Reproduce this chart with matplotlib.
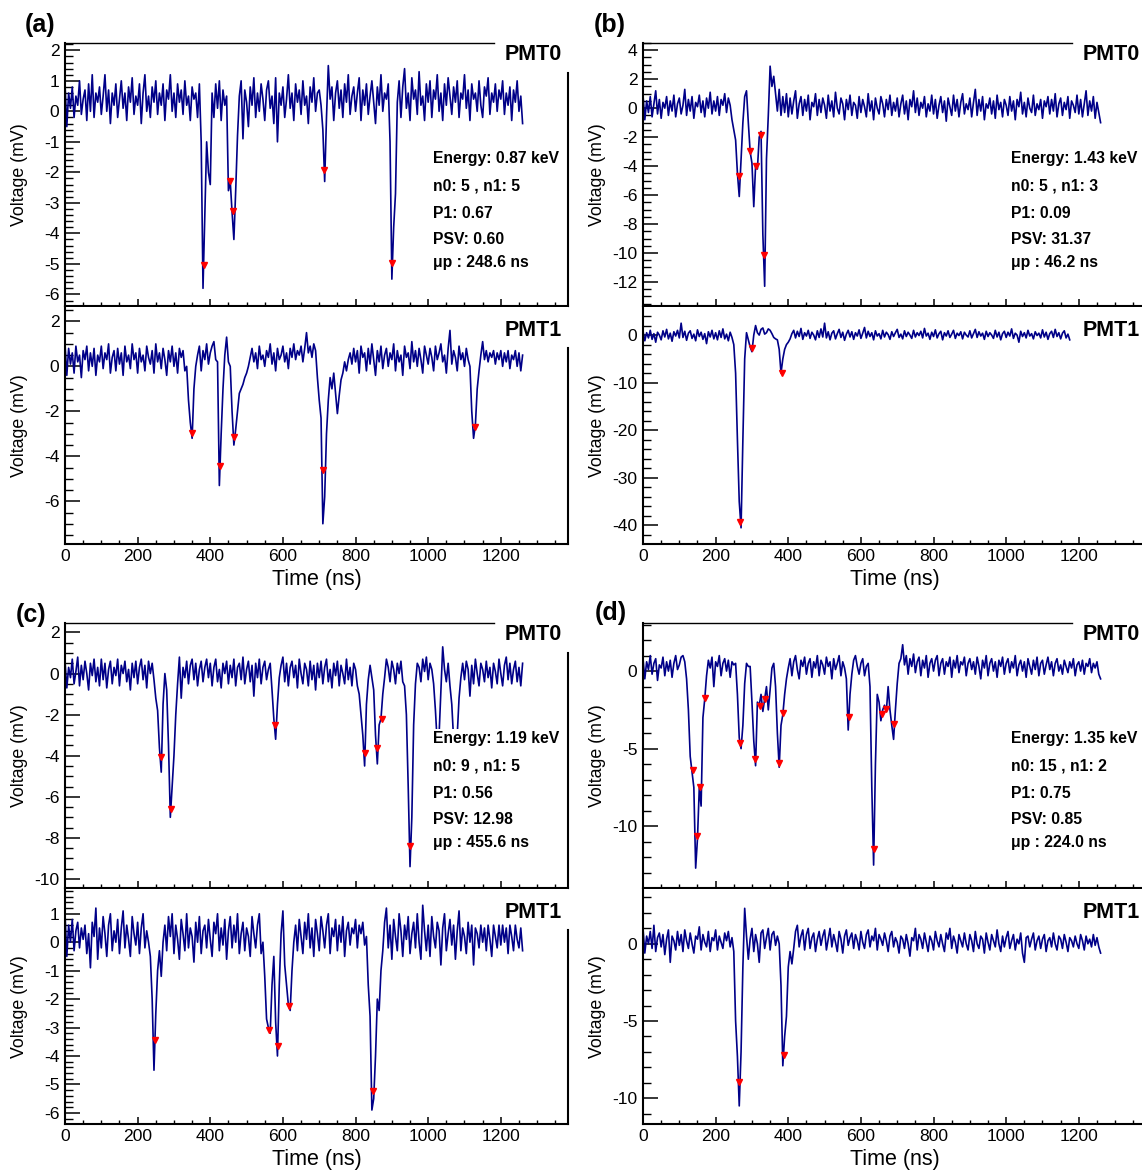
import numpy as np
import matplotlib
matplotlib.use("Agg")
import matplotlib.pyplot as plt
from matplotlib.ticker import MultipleLocator
from matplotlib.patches import Rectangle

plt.rcParams['font.family'] = ['Liberation Sans', 'DejaVu Sans']
plt.rcParams['axes.unicode_minus'] = False

# waveforms sampled every 5 ns, values in mV (one row = 100 ns)
SAMPLE_NS = 5

a_pmt0 = [
    0.9, -0.5, 0.6, 0.1, 0.8, -0.2, 0.5, 0.2, 1.0, -0.1, 0.4, 0.7, -0.3, 0.9, 0.0, 1.2, -0.2, 0.6, 0.3, 0.8,
    -0.1, 0.5, 1.2, 0.0, 0.7, -0.4, 0.6, 0.2, 0.9, -0.2, 0.4, 1.0, 0.1, 0.6, -0.3, 0.8, 0.3, 1.1, -0.1, 0.5,
    0.2, 0.9, -0.4, 0.6, 1.2, 0.0, 0.5, -0.2, 0.8, 0.3, 1.0, -0.1, 0.6, 0.2, 0.9, -0.3, 0.7, 0.4, 1.2, 0.0,
    0.6, -0.2, 0.9, 0.3, 0.7, -0.1, 1.0, 0.2, 0.5, -0.3, 0.8, 0.4, 0.6, -0.2, 0.9, -1.0, -5.8, -3.4, -1.0, -2.0,
    -2.4, 0.6, -0.2, 0.9, 0.1, 1.0, -0.3, 0.7, 0.2, 0.5, -2.6, -2.3, -3.3, -4.2, -2.6, -0.8, 0.5, 1.0, -0.9, 0.7,
    0.3, -0.5, 0.8, 0.2, 1.1, -0.2, 0.6, 0.0, 0.9, 0.4, -0.3, 0.7, 1.0, 0.1, 0.5, -0.4, 1.1, -1.0, 0.6, 0.2,
    0.8, -0.2, 0.4, 1.2, 0.1, 0.6, -0.3, 0.9, 0.3, 0.7, -0.1, 1.0, 0.2, 0.5, -0.4, 0.8, 0.3, 1.1, 0.0, 0.6,
    0.7, 0.2, -0.6, -2.3, -0.2, 1.5, 0.4, 0.8, -0.3, 0.6, 1.0, 0.1, 0.7, -0.2, 0.9, 0.3, 1.2, -0.1, 0.5, 0.8,
    0.0, 0.6, 1.1, -0.3, 0.7, 0.2, 0.9, -0.1, 0.5, 1.0, 0.3, -0.4, 0.8, 0.2, 1.2, 0.0, 0.6, 0.4, 0.9, -1.0,
    -5.5, -3.8, -2.7, 0.3, 1.0, -0.2, 0.8, 1.4, 0.1, 0.6, -0.3, 1.1, 0.4, 0.7, -0.1, 1.3, 0.2, 0.5, -0.3, 0.9,
    0.3, 1.0, -0.2, 0.7, 0.4, 1.2, 0.0, 0.6, -0.3, 0.9, 0.2, 1.1, 0.5, -0.1, 0.8, 0.3, 1.0, -0.2, 0.6, 0.4,
    1.2, 0.1, 0.7, -0.3, 0.9, 0.4, 0.6, 0.0, 1.0, 0.2, -0.2, 0.8, 0.5, 1.1, -0.1, 0.6, 0.3, 0.9, 0.0, 0.7,
    0.4, 1.0, -0.1, 0.6, 0.2, 0.8, -0.3, 0.7, 0.3, 1.0, 0.0, 0.5, -0.4,
]
a_pmt0_peak_t = [383, 453, 462, 714, 900]
a_pmt0_peak_v = [-5.05, -2.27, -3.28, -1.91, -4.96]

a_pmt1 = [
    1.0, -0.4, 0.8, 0.1, 0.6, -0.3, 0.9, 0.2, 0.5, -0.5, 0.7, 0.3, 0.9, -0.2, 0.6, 0.0, 0.8, -0.4, 0.5, 0.2,
    0.9, -0.1, 0.6, 0.3, 1.0, -0.3, 0.4, 0.7, -0.2, 0.8, 0.1, 0.6, -0.4, 0.9, 0.2, 0.5, -0.1, 1.0, 0.3, 0.6,
    -0.3, 0.8, 0.2, 0.5, -0.2, 0.9, 0.4, 0.1, 0.7, -0.3, 1.0, 0.2, 0.6, -0.1, 0.8, 0.3, -0.4, 0.7, 0.2, 0.9,
    0.0, 0.6, -0.3, 0.8, 0.4, 0.7, -0.2, 0.0, -1.5, -2.5, -3.2, -1.0, 0.0, 0.5, 0.9, -0.2, 0.7, 0.3, 1.0, 0.1,
    0.6, 0.9, 1.1, 0.3, 0.2, -5.3, -3.0, -1.0, 0.5, 1.3, 0.2, 0.0, -2.0, -3.5, -2.8, -2.0, -1.2, -1.0, -0.8, -0.5,
    -0.3, 0.0, 0.4, 0.8, 0.2, 0.6, -0.1, 0.9, 0.3, 0.5, 0.0, 0.7, 0.4, 1.0, 0.1, 0.6, -0.2, 0.8, 0.3, 0.5,
    0.9, 0.2, 0.6, -0.1, 0.8, 0.4, 1.0, 0.3, 0.7, 0.5, 0.9, 0.2, 0.8, 1.5, 0.6, 0.9, 0.4, 1.0, 0.7, -0.5,
    -1.5, -2.3, -7.0, -5.8, -3.0, -1.5, -0.5, -1.0, -0.3, -1.2, -2.1, -1.3, -0.6, -0.3, 0.2, -0.2, 0.3, 0.6, 0.1, 0.8,
    0.2, 0.7, -0.3, 0.9, 0.4, 0.6, -0.2, 0.8, 0.1, 1.0, 0.3, -0.4, 0.7, 0.2, 0.9, -0.1, 0.5, 0.8, 0.0, 0.6,
    0.3, 1.0, -0.2, 0.7, 0.2, 0.5, -0.4, 0.9, 0.4, 0.6, -0.1, 1.1, 0.2, 0.7, 0.0, 0.8, 0.3, -0.3, 0.9, 0.5,
    0.1, 0.8, 0.4, -0.2, 0.9, 0.3, 0.6, 1.0, 0.2, 0.5, -0.3, 0.8, 1.6, 0.1, 0.7, 0.4, -0.2, 0.9, 0.3, 0.6,
    0.0, 0.8, 0.3, 0.0, -2.0, -3.2, -2.6, -1.0, -0.2, 0.5, 1.1, 0.3, 0.7, 0.2, 0.6, 0.4, 0.7, 0.1, 0.6, 0.3,
    0.7, 0.0, 0.6, 0.2, 0.7, -0.1, 0.5, 0.3, 0.7, 0.0, 0.6, -0.2, 0.5,
]
a_pmt1_peak_t = [351, 428, 466, 710, 1129]
a_pmt1_peak_v = [-2.96, -4.44, -3.14, -4.60, -2.71]

b_pmt0 = [
    0.9, -0.8, 0.5, -0.3, 0.8, -0.6, 0.3, 1.2, -0.4, 0.6, -0.7, 0.4, 0.0, 0.8, -0.5, 0.5, -0.2, 0.9, -0.6, 0.3,
    0.7, -0.4, 0.2, 1.3, -0.5, 0.6, -0.2, 0.8, -0.7, 0.4, 0.1, 0.9, -0.3, 0.5, -0.6, 0.7, 0.0, 1.1, -0.4, 0.5,
    -0.2, 0.8, -0.5, 0.6, 0.2, 1.0, -0.3, 0.7, 0.2, -0.8, -1.5, -2.2, -4.5, -6.1, -3.5, -1.0, 0.8, 1.2, -1.0, -3.0,
    -3.8, -6.8, -4.0, -4.2, -2.0, -1.6, -8.7, -12.3, -3.5, -0.5, 2.9, 1.5, 2.2, 1.0, -0.2, 1.3, -0.5, 0.8, -0.3, 1.0,
    -0.6, 0.7, -0.4, 0.5, 1.2, -0.7, 0.3, 0.8, -0.5, 0.6, -0.2, 0.9, -0.8, 0.4, 0.1, 1.0, -0.5, 0.6, -0.3, 0.7,
    0.2, -0.7, 0.9, -0.2, 0.5, -0.6, 1.1, 0.0, -0.4, 0.7, 0.3, -0.8, 0.6, -0.1, 0.9, -0.5, 0.4, 0.2, -0.7, 0.8,
    -0.3, 0.6, 0.1, -0.6, 1.0, -0.2, 0.5, -0.8, 0.7, 0.0, -0.4, 0.8, 0.3, -0.6, 0.6, -0.1, 0.9, -0.5, 0.4, -0.2,
    0.7, -0.6, 0.3, 0.9, -0.4, 0.5, -0.8, 0.6, 0.1, 1.2, -0.3, 0.7, -0.5, 0.4, 0.0, 0.8, -0.6, 0.3, -0.2, 0.9,
    -0.4, 0.6, -0.7, 0.2, 0.8, -0.3, 0.5, -0.9, 0.7, 0.1, -0.5, 0.9, -0.2, 0.6, -0.6, 0.4, 1.0, -0.4, 0.3, -0.1,
    0.7, -0.6, 0.4, 1.3, -0.5, 0.6, -0.2, 0.8, -0.8, 0.3, 0.0, 0.7, -0.4, 0.5, -0.7, 0.9, -0.1, 0.4, -0.6, 0.6,
    0.2, -0.5, 0.8, -0.2, 0.5, -0.8, 0.6, 0.1, 1.1, -0.4, 0.4, -0.6, 0.7, 0.0, -0.3, 0.9, -0.5, 0.3, -0.1, 0.6,
    -0.7, 0.5, 0.1, 0.8, -0.4, 0.6, -0.2, 1.0, -0.6, 0.3, 0.7, -0.5, 0.4, -0.1, 0.8, -0.7, 0.5, 0.2, -0.3, 0.9,
    -0.4, 0.6, -0.6, 0.3, 1.2, -0.5, 0.5, -0.2, 0.8, -0.7, 0.4, -0.3, -1.0,
]
b_pmt0_peak_t = [263, 295, 312, 324, 333]
b_pmt0_peak_v = [-4.71, -2.93, -4.01, -1.84, -10.16]

b_pmt1 = [
    0.8, -1.2, 0.5, -0.6, 1.0, -0.9, 0.3, -1.5, 0.6, 0.0, -1.0, 0.9, -0.4, 1.2, -0.8, 0.4, -1.3, 0.7, -0.2, 1.0,
    -0.6, 2.5, -0.5, 0.8, -1.1, 0.4, 0.9, -0.7, 0.2, -1.2, 1.1, -0.3, 0.6, -0.9, 0.3, -1.8, 0.7, -0.4, 1.0, -0.8,
    0.5, -1.0, 0.9, -0.5, 1.3, -0.8, 0.2, -1.2, 0.6, -0.5, -2.0, -8.0, -22.0, -35.0, -40.5, -22.0, -5.0, 0.5, -1.0, -2.5,
    -3.5, 0.0, 2.0, 0.5, 0.0, 1.2, 1.5, 0.2, 0.5, 1.3, 1.0, 0.3, -0.5, -0.8, -1.0, -3.0, -8.0, -5.0, -3.0, -2.0,
    -1.5, -0.8, 0.3, 1.0, -0.6, 0.8, -0.3, 1.4, -0.9, 0.5, -0.2, 1.0, -0.7, 0.6, 0.0, -1.0, 0.9, -0.5, 1.3, -0.4,
    2.5, -0.6, 0.7, -1.0, 0.4, 0.9, -0.8, 0.3, 1.2, -0.5, 0.6, -1.1, 0.2, 1.0, -0.4, 0.7, -0.9, 0.5, -0.2, 1.1,
    -0.7, 0.4, 1.6, -0.6, 0.8, -0.3, 0.5, -1.0, 0.9, -0.2, 0.3, -0.8, 1.0, -0.4, 0.6, 0.1, -0.9, 0.7, -0.3, 0.5,
    1.2, -0.5, 0.2, -0.8, 0.9, -0.3, 0.6, 0.0, -0.7, 1.0, -0.4, 0.5, -0.1, 0.8, -0.6, 1.4, -0.2, 0.4, -0.9, 0.6,
    -0.3, 1.1, -0.6, 0.3, 0.8, -1.0, 0.5, -0.2, 0.9, -0.5, 0.2, 1.0, -0.7, 0.4, -0.1, 0.7, -0.8, 0.6, 0.0, -0.4,
    0.9, -0.6, 0.3, 1.2, -0.5, 0.7, -0.2, 0.4, -0.9, 0.8, -0.3, 0.5, 0.0, -0.7, 1.0, -0.4, 0.6, -1.0, 0.3, 0.8,
    -0.5, 0.6, -0.2, 1.3, -0.7, 0.4, 0.0, -1.5, 0.8, -0.3, 0.5, -0.6, 1.0, -0.2, 0.3, -0.8, 0.7, -0.1, 0.4, -0.6,
    1.1, -0.4, 0.6, -0.9, 0.3, 0.8, -0.5, 1.2, -0.3, 0.5, -0.8, 0.4, 0.9, -0.6, 0.2, -1.0,
]
b_pmt1_peak_t = [268, 300, 383]
b_pmt1_peak_v = [-39.3, -2.8, -8.0]

c_pmt0 = [
    0.6, -0.7, 0.3, -0.2, 0.7, -0.5, 0.1, 0.8, -0.6, 0.4, -0.3, 0.6, 0.0, -0.8, 0.5, -0.1, 0.7, -0.4, 0.3, -0.6,
    0.7, -0.3, 0.5, -0.7, 0.2, 0.6, -0.5, 0.3, -0.1, 0.7, -0.6, 0.4, 0.0, 0.6, -0.4, 0.2, -0.8, 0.5, -0.2, 0.6,
    -0.5, 0.3, 0.7, -0.3, 0.4, -0.7, 0.6, 0.0, 0.5, -0.3, -1.2, -1.8, -3.6, -4.8, -1.5, 0.0, -0.8, -3.5, -7.0, -5.5,
    -4.0, -2.0, -0.5, 0.8, -1.2, 0.3, -0.2, 0.6, -0.5, 0.4, 0.7, -0.3, 0.5, -0.6, 0.2, 0.6, -0.4, 0.3, 0.7, -0.2,
    0.5, -0.6, 0.3, 0.7, -0.4, 0.2, -0.7, 0.5, 0.0, 0.6, -0.5, 0.4, -0.2, 0.7, -0.6, 0.3, 0.5, -0.3, 0.8, -0.5,
    0.2, 0.6, -0.4, 0.4, -1.1, 0.5, -0.2, 0.7, -0.5, 0.3, 0.6, -0.3, 0.2, 0.5, -0.8, -2.2, -3.2, -1.5, -0.2, 0.4,
    0.8, -0.4, 0.5, -0.6, 0.3, 0.6, -0.2, 0.4, -0.7, 0.7, 0.0, -0.5, 0.5, 0.2, -0.6, 0.6, -0.3, 0.4, -0.8, 0.5,
    -0.2, 0.6, -0.5, 0.3, 0.7, -0.4, 0.2, -0.7, 0.5, -0.1, 0.6, -0.6, 0.4, 0.0, -0.5, 0.7, -0.3, 0.3, -0.6, 0.5,
    0.2, -0.6, -1.0, -2.0, -3.0, -4.5, -1.5, -0.3, 0.4, -0.2, -0.8, -3.0, -4.4, -2.5, -2.2, -1.0, -0.2, 0.7, 0.3, -0.4,
    0.6, 0.2, -0.5, 0.5, 0.0, 0.6, -0.4, -0.6, -2.0, -5.5, -9.4, -7.0, -2.5, -0.5, 0.5, 0.3, -0.4, 0.7, 0.1, 0.8,
    -0.3, 0.5, 0.2, -0.5, -1.8, -3.4, -3.0, -0.8, 1.3, 0.2, -0.4, 0.5, -0.6, -1.5, -3.2, -3.3, -3.0, -1.2, -0.2, 0.5,
    -0.3, 0.6, 0.2, -1.1, 0.4, -0.5, 0.7, 0.0, -0.6, 0.5, 0.2, -0.4, 0.6, -0.2, 0.3, -0.7, 0.5, 0.1, -0.5, 0.7,
    0.0, -0.6, 0.4, 0.8, -0.3, 0.5, -0.5, 0.2, 0.6, -0.4, 0.3, -0.6, 0.5,
]
c_pmt0_peak_t = [263, 291, 577, 825, 859, 872, 951, 1027, 1072]
c_pmt0_peak_v = [-4.08, -6.57, -2.49, -3.89, -3.64, -2.23, -8.41, -3.3, -3.2]

c_pmt1 = [
    1.0, -0.5, 0.6, 0.0, 0.8, -0.3, 0.4, 0.7, -0.2, 0.5, 0.1, 0.6, -0.4, 0.3, -0.9, 0.7, 0.2, 1.2, -0.6, 0.5,
    -0.2, 0.9, 0.3, -0.5, 0.6, 1.0, -0.3, 0.4, 0.0, 0.8, -0.4, 0.5, 1.1, -0.2, 0.6, 0.1, -0.5, 0.9, 0.3, -0.1,
    0.7, -0.4, 0.5, 1.0, -0.2, 0.4, 0.0, -0.5, -2.0, -4.5, -2.5, -1.0, -0.3, -1.2, 0.0, 0.6, -0.3, 0.9, 0.2, 1.0,
    -0.4, 0.6, 0.1, -0.6, 0.8, 0.3, -0.3, 1.0, -0.2, 0.5, 0.2, -0.7, 0.7, 0.0, 0.9, -0.4, 0.4, 0.6, -0.2, 0.8,
    0.1, -0.5, 0.7, 0.3, 1.0, -0.3, 0.5, -0.1, 0.8, -0.6, 0.4, 0.9, -0.2, 0.6, 0.0, 1.0, -0.4, 0.3, 0.7, -0.3,
    0.5, 0.2, -0.5, 0.9, 0.3, -0.2, 0.6, 1.0, -0.4, 0.0, -1.2, -2.7, -3.0, -3.2, -1.5, -0.5, -2.8, -4.0, -1.5, 0.3,
    1.1, -0.8, -1.5, -2.2, -2.4, -1.0, 0.0, 0.6, -0.3, 0.8, 0.2, -0.4, 0.7, 0.1, 1.0, -0.2, 0.5, -0.5, 0.8, 0.3,
    -0.3, 0.9, 0.4, -0.2, 0.6, 1.0, -0.4, 0.5, 0.2, 0.8, -0.3, 0.6, 0.0, 0.9, -0.5, 0.4, 0.7, -0.1, 0.5, 0.3,
    0.8, -0.2, 0.6, 0.3, 0.7, -0.1, 0.2, -1.5, -2.6, -5.9, -5.5, -4.0, -2.0, -2.4, -1.0, -0.3, 0.7, 1.2, -0.2, 0.6,
    -0.6, 0.8, 0.2, -0.3, 1.0, 0.4, -0.5, 0.6, 0.1, 0.9, -0.4, 0.3, 0.7, -0.2, 1.0, 0.0, -0.6, 1.3, 0.4, -0.3,
    0.6, -0.5, 0.9, 0.2, -0.2, 0.7, 0.4, -0.8, 0.5, 1.0, -0.3, 0.3, 0.8, -0.1, 0.6, -0.6, 0.4, 1.1, -0.3, 0.5,
    0.2, -0.4, 0.7, 0.0, 0.6, -0.8, 0.5, 0.3, -0.2, 0.6, 0.0, 0.5, -0.3, 0.6, 0.1, -0.5, 0.6, 0.2, -0.2, 0.6,
    -0.1, 0.6, 0.0, 0.5, -0.4, 0.6, 0.2, -0.3, 0.6, 0.1, -0.2, 0.5, -0.3,
]
c_pmt1_peak_t = [248, 563, 586, 617, 847]
c_pmt1_peak_v = [-3.44, -3.07, -3.64, -2.24, -5.24]

d_pmt0 = [
    0.8, -0.5, 0.6, 0.1, 1.0, -0.2, 0.5, 0.8, -0.6, 0.4, 0.2, 0.9, -0.3, 0.6, 0.0, 0.7, -0.4, 0.5, 1.0, 0.1,
    0.4, 0.9, 1.0, 0.6, -0.5, -2.5, -5.5, -6.5, -7.5, -12.7, -10.8, -7.5, -8.7, -3.0, -1.8, -0.3, 0.7, 0.2, 0.9, -1.0,
    0.6, 0.3, 1.0, -0.3, 0.5, 0.8, 0.0, 0.7, -0.4, 0.6, 0.4, 0.5, -1.5, -4.3, -5.0, -3.5, -0.8, 0.5, 0.3, 0.3,
    -2.0, -4.5, -6.1, -2.0, -2.2, -1.5, -2.6, -1.8, -1.0, -2.5, -1.2, 0.2, 0.5, -1.0, -4.0, -6.2, -3.5, -2.8, -1.5, -0.5,
    0.2, 0.8, -0.3, 0.6, 1.0, 0.1, -0.5, 0.7, 0.3, 0.9, -0.2, 0.5, 0.8, -0.4, 0.6, 0.2, 1.0, -0.3, 0.7, 0.4,
    -0.2, 0.9, 0.3, 0.6, -0.5, 0.8, 0.1, 0.5, 1.0, -0.3, 0.6, 0.2, -0.5, -3.8, -1.5, -0.2, 0.7, 1.0, 0.3, -0.2,
    0.5, 0.8, -0.3, 0.3, 0.5, -1.0, -7.5, -12.5, -6.0, -1.5, -2.0, -3.2, -2.5, -2.2, -2.6, -1.0, -2.5, -3.5, -4.4, -2.5,
    -0.8, 0.5, 0.8, 1.7, 0.4, 1.0, -0.2, 0.8, 0.3, 1.1, -0.1, 0.6, 0.9, -0.3, 0.7, 0.2, 1.0, -0.4, 0.5, 0.8,
    0.0, 0.7, 1.0, -0.3, 0.5, 0.8, -0.2, 0.6, 0.3, 0.9, -0.4, 0.7, 0.2, 1.0, -0.1, 0.6, 0.4, 0.9, -0.3, 0.5,
    0.8, 0.1, 0.6, -0.2, 0.9, 0.3, -0.5, 0.7, 0.2, 1.0, -0.3, 0.5, 0.8, 0.0, 0.6, -0.4, 0.7, 0.3, 0.9, -0.2,
    0.5, 0.8, -0.1, 0.6, 0.2, 1.0, -0.3, 0.4, 0.7, 0.0, 0.6, -0.4, 0.8, 0.3, -0.2, 0.7, 0.1, 0.9, -0.3, 0.5,
    0.7, -0.2, 0.4, 0.9, 0.1, 0.6, -0.3, 0.5, 0.8, 0.0, 0.4, -0.2, 0.7, 0.3, -0.1, 0.6, 0.2, 0.8, -0.3, 0.4,
    0.6, 0.0, 0.7, -0.2, 0.5, 0.3, 0.8, -0.1, 0.5, 0.2, 0.6, -0.2, -0.5,
]
d_pmt0_peak_t = [139, 149, 157, 170, 267, 309, 321, 335, 374, 385, 566, 636, 659, 670, 690]
d_pmt0_peak_v = [-6.4, -10.6, -7.5, -1.76, -4.62, -5.66, -2.27, -1.83, -5.93, -2.72,
                 -2.98, -11.48, -2.77, -2.44, -3.38]

d_pmt1 = [
    1.0, -0.6, 0.5, 0.0, 0.8, -0.3, 1.2, -0.5, 0.4, 0.7, -0.2, 0.6, -0.7, 0.3, 0.9, -1.2, 0.5, 0.2, -0.4, 0.8,
    -0.1, 0.6, -0.5, 0.9, 0.2, -0.3, 0.7, 0.0, -0.6, 0.5, 0.3, 1.1, -0.4, 0.6, 0.1, -0.2, 0.8, -0.5, 0.4, 0.2,
    0.9, -0.4, 0.5, 0.1, -0.3, 0.7, 0.2, 0.8, -0.2, 0.4, -0.5, -5.0, -7.3, -10.5, -7.0, -1.5, 2.3, 0.5, -1.0, 0.3,
    1.0, -0.5, 0.6, 0.0, -1.2, 0.7, 0.9, -0.3, 0.4, 1.0, -0.4, 0.6, 0.8, -0.1, 0.5, 0.0, -2.7, -7.9, -6.0, -4.7,
    -1.5, -0.5, -1.3, -0.3, 0.8, 1.2, -0.2, 0.5, 0.9, -0.4, 0.6, 1.0, -0.3, 0.4, 0.7, -0.5, 0.3, 0.8, -0.1, 0.5,
    0.9, -0.4, 0.3, 1.0, -0.2, 0.6, 0.1, -0.5, 0.8, 0.3, -0.6, 0.5, 0.9, -0.1, 0.4, 0.7, -0.3, 0.6, 0.2, -0.4,
    0.8, 0.1, -0.3, 0.6, 0.9, -0.2, 0.5, 0.2, 1.0, -0.4, 0.6, 0.3, -0.1, 0.7, 0.2, -0.5, 0.5, 0.8, -0.2, 0.4,
    0.1, -0.6, 0.5, 0.3, -0.3, 0.6, 0.0, -0.8, 0.4, 0.2, 1.0, -0.4, 0.6, 0.3, -0.3, 0.7, 0.1, -0.5, 0.5, 0.2,
    -0.4, 0.8, 0.2, -0.2, 0.6, 0.0, -0.5, 0.7, 0.3, 1.0, -0.3, 0.5, 0.1, -0.6, 0.6, 0.2, -0.2, 0.7, 0.0, -0.4,
    0.6, 0.2, -0.5, 0.8, 0.0, -0.3, 0.5, 0.3, -0.6, 0.7, 0.1, -0.4, 0.6, 0.2, -0.2, 0.9, 0.0, -0.5, 0.5, -0.2,
    0.4, 0.8, -0.3, 0.2, 0.6, -0.4, 0.3, 0.0, 0.7, -0.6, -1.2, 0.4, 0.5, -0.2, 0.3, 0.7, -0.4, 0.2, 0.5, -0.3,
    0.3, 0.6, -0.5, 0.2, 0.4, -0.2, 0.7, 0.0, -0.4, 0.5, 0.3, -0.3, 0.6, 0.1, -0.5, 0.4, 0.2, -0.2, 0.5, 0.0,
    -0.3, 0.6, 0.2, -0.4, 0.5, 0.0, 0.3, -0.2, 0.6, -0.1, 0.4, -0.2, -0.6,
]
d_pmt1_peak_t = [263, 387]
d_pmt1_peak_v = [-8.97, -7.19]

panel_letters = ["(a)", "(b)", "(c)", "(d)"]
stats = [
    ["Energy: 0.87 keV", "n0: 5 , n1: 5", "P1: 0.67", "PSV: 0.60", "\u03bcp : 248.6 ns"],
    ["Energy: 1.43 keV", "n0: 5 , n1: 3", "P1: 0.09", "PSV: 31.37", "\u03bcp : 46.2 ns"],
    ["Energy: 1.19 keV", "n0: 9 , n1: 5", "P1: 0.56", "PSV: 12.98", "\u03bcp : 455.6 ns"],
    ["Energy: 1.35 keV", "n0: 15 , n1: 2", "P1: 0.75", "PSV: 0.85", "\u03bcp : 224.0 ns"],
]

LINE_COLOR = "#000088"
W, H = 1142, 1174
XMAX = 1385


# axes rectangle in figure fractions from pixel edges
def px_box(left, top, right, bottom):
    return [left / W, 1 - bottom / H, (right - left) / W, (bottom - top) / H]


# one waveform with its found peaks
def draw_trace(ax, volts, peak_t, peak_v, ylim, major, minor, name, is_top, h_px):
    t = np.arange(len(volts)) * SAMPLE_NS
    ax.plot(t, volts, color=LINE_COLOR, lw=1.2, zorder=2)
    ax.plot(peak_t, peak_v, "v", color="red", ms=5, mec="red", zorder=3)

    ax.set_xlim(0, XMAX)
    ax.set_ylim(*ylim)
    ax.xaxis.set_major_locator(MultipleLocator(200))
    ax.xaxis.set_minor_locator(MultipleLocator(50))
    ax.yaxis.set_major_locator(MultipleLocator(major))
    ax.yaxis.set_minor_locator(MultipleLocator(minor))
    ax.tick_params(axis="x", which="major", direction="in", length=5, width=1.1,
                   top=False, labelsize=12.6, pad=3.5)
    ax.tick_params(axis="x", which="minor", direction="in", length=3, width=1.0, top=False)
    ax.tick_params(axis="y", which="major", direction="in", length=10.8, width=1.1,
                   right=False, labelsize=12.6, pad=4)
    ax.tick_params(axis="y", which="minor", direction="in", length=5.4, width=1.0, right=False)

    # ROOT style frame: the pad title box cuts the top right corner
    for side in ["top", "right"]:
        ax.spines[side].set_visible(False)
    for side in ["left", "bottom"]:
        ax.spines[side].set_linewidth(1.5)
    if is_top:
        ax.plot([0, 0.853], [1, 1], color="black", lw=1.0, transform=ax.transAxes, clip_on=False)
        ax.plot([1, 1], [0, 1 - 30 / h_px], color="black", lw=1.5, transform=ax.transAxes, clip_on=False)
        ax.text(0.988, 1 - 12 / h_px, name, transform=ax.transAxes, ha="right", va="center",
                fontsize=15.5, fontweight="bold")
        ax.tick_params(axis="x", labelbottom=False)
    else:
        ax.plot([1, 1], [0, 1 - 41 / h_px], color="black", lw=1.5, transform=ax.transAxes, clip_on=False)
        ax.text(0.988, 1 - 23 / h_px, name, transform=ax.transAxes, ha="right", va="center",
                fontsize=15.5, fontweight="bold")
        ax.set_xlabel("Time (ns)", fontsize=15.5)
        ax.xaxis.set_label_coords(0.5, -24.5 / h_px)

    ax.set_ylabel("Voltage (mV)", fontsize=12.8)
    ax.yaxis.set_label_coords(-0.0736, 0.5)


# the summary numbers sit in a white box over the PMT0 trace
def draw_stats(ax, lines, h_px):
    ax.add_patch(Rectangle((0.727, 1 - 235 / h_px), 0.26, (235 - 106) / h_px,
                           transform=ax.transAxes, facecolor="white", edgecolor="none", zorder=4))
    offsets = [116, 143, 170, 197, 220]
    for line, off in zip(lines, offsets):
        ax.text(0.732, 1 - off / h_px, line, transform=ax.transAxes, ha="left", va="center",
                fontsize=11.3, fontweight="bold", zorder=5)


def main():
    fig = plt.figure(figsize=(W / 100, H / 100), dpi=100)

    col_left = [65, 643]
    width = 503
    rows = [((43, 306), (307, 544)), ((623, 888), (889, 1124))]

    traces = [
        (a_pmt0, a_pmt0_peak_t, a_pmt0_peak_v, (-6.38, 2.24), 1, 0.2,
         a_pmt1, a_pmt1_peak_t, a_pmt1_peak_v, (-7.9, 2.64), 2, 0.5),
        (b_pmt0, b_pmt0_peak_t, b_pmt0_peak_v, (-13.66, 4.5), 2, 0.5,
         b_pmt1, b_pmt1_peak_t, b_pmt1_peak_v, (-43.9, 5.9), 10, 2),
        (c_pmt0, c_pmt0_peak_t, c_pmt0_peak_v, (-10.44, 2.46), 2, 0.5,
         c_pmt1, c_pmt1_peak_t, c_pmt1_peak_v, (-6.39, 1.87), 1, 0.2),
        (d_pmt0, d_pmt0_peak_t, d_pmt0_peak_v, (-13.98, 3.1), 5, 1,
         d_pmt1, d_pmt1_peak_t, d_pmt1_peak_v, (-11.67, 3.55), 5, 1),
    ]
    letter_pos = [(40, 25), (610, 25), (31, 615), (611, 613)]

    for i, tr in enumerate(traces):
        row, col = divmod(i, 2)
        left = col_left[col]
        (t0, b0), (t1, b1) = rows[row]

        ax0 = fig.add_axes(px_box(left, t0, left + width, b0))
        draw_trace(ax0, tr[0], tr[1], tr[2], tr[3], tr[4], tr[5], "PMT0", True, b0 - t0)
        draw_stats(ax0, stats[i], b0 - t0)

        ax1 = fig.add_axes(px_box(left, t1, left + width, b1))
        draw_trace(ax1, tr[6], tr[7], tr[8], tr[9], tr[10], tr[11], "PMT1", False, b1 - t1)

        lx, ly = letter_pos[i]
        fig.text(lx / W, 1 - ly / H, panel_letters[i], ha="center", va="center",
                 fontsize=18, fontweight="bold")

    fig.savefig("out.png", dpi=100)


main()
